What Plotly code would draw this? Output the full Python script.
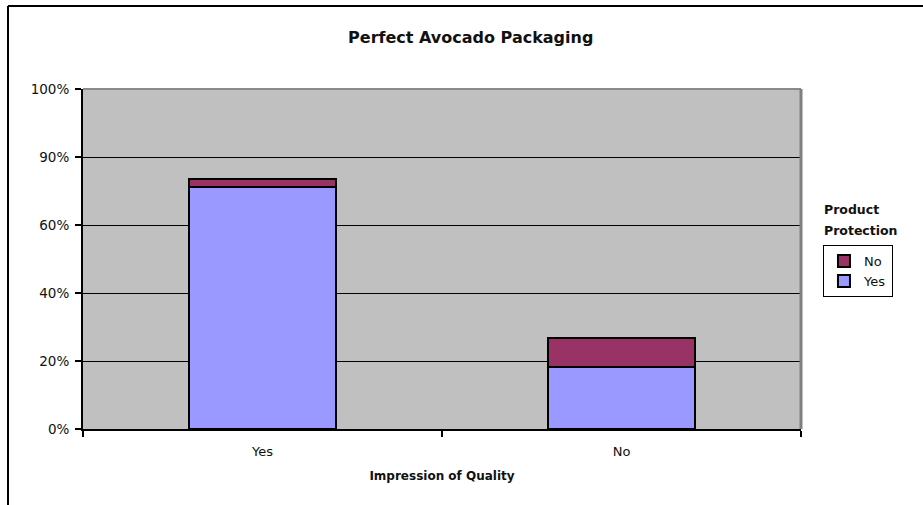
import plotly.graph_objects as go

categories = ["Yes", "No"]
protection_yes = [71.3, 18.3]
protection_no = [2.2, 8.5]
y_tickvals = [0, 20, 40, 60, 80, 100]
y_ticktext = ["0%", "20%", "40%", "60%", "90%", "100%"]

FONT = "DejaVu Sans, Liberation Sans, Arial, sans-serif"

fig = go.Figure()
fig.add_trace(go.Bar(name="Yes", x=categories, y=protection_yes,
                     marker=dict(color="#9999ff", line=dict(color="black", width=2))))
fig.add_trace(go.Bar(name="No", x=categories, y=protection_no,
                     marker=dict(color="#993366", line=dict(color="black", width=2))))

fig.update_layout(
    width=923, height=505,
    barmode="stack", bargap=0.593,
    paper_bgcolor="white", plot_bgcolor="#c0c0c0",
    margin=dict(l=83, r=122, t=89, b=76),
    font=dict(family=FONT, size=12, color="#111"),
    title=dict(text="<b>Perfect Avocado Packaging</b>", x=0.51, xref="container",
               y=0.926, yref="container", xanchor="center", yanchor="middle",
               font=dict(size=16, color="#111", family=FONT)),
    xaxis=dict(showline=True, linecolor="black", linewidth=2, ticks="outside",
               tickson="boundaries", ticklen=6, tickcolor="black", tickwidth=2,
               ticklabelstandoff=9,
               showgrid=False, title=dict(text="<b>Impression of Quality</b>",
               font=dict(size=12), standoff=14), tickfont=dict(size=13)),
    yaxis=dict(range=[0, 100], tickvals=y_tickvals, ticktext=y_ticktext,
               showline=True, linecolor="black", linewidth=2, ticks="outside",
               ticklen=6, tickcolor="black", tickwidth=2, showgrid=True,
               ticklabelstandoff=3,
               gridcolor="black", gridwidth=1, zeroline=False,
               tickfont=dict(size=13.5)),
    legend=dict(x=1.0306, y=0.541, xanchor="left", yanchor="top",
                traceorder="reversed", bordercolor="black", borderwidth=1,
                bgcolor="white", font=dict(size=13), itemwidth=30),
    showlegend=True,
)

fig.add_annotation(text="<b>Product</b>", xref="paper", yref="paper",
                   x=1.029, y=(429 - 209) / 340, xanchor="left", yanchor="middle",
                   showarrow=False, font=dict(size=12.5, color="#111"))
fig.add_annotation(text="<b>Protection</b>", xref="paper", yref="paper",
                   x=1.029, y=(429 - 230) / 340, xanchor="left", yanchor="middle",
                   showarrow=False, font=dict(size=12.5, color="#111"))

# plot-area top/right border (gray)
fig.add_shape(type="line", xref="paper", yref="paper", x0=0, x1=1, y0=1, y1=1,
              line=dict(color="#8a8a8a", width=2))
fig.add_shape(type="line", xref="paper", yref="paper", x0=1, x1=1, y0=0, y1=1,
              line=dict(color="#808080", width=3))
# outer chart frame (top and left visible)
fig.add_shape(type="line", xref="paper", yref="paper",
              x0=-75/718, x1=840/718, y0=423/340, y1=423/340,
              line=dict(color="black", width=2))
fig.add_shape(type="line", xref="paper", yref="paper",
              x0=-75/718, x1=-75/718, y0=-76/340, y1=423/340,
              line=dict(color="black", width=2))

fig.write_html("out.html", config={"displayModeBar": False},
               post_script="document.body.style.margin='0';document.body.style.overflow='hidden';")
